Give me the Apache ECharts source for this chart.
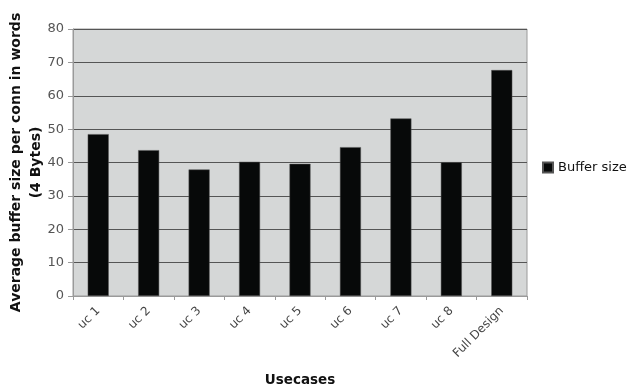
<!DOCTYPE html>
<html>
<head>
<meta charset="utf-8">
<script src="https://cdn.jsdelivr.net/npm/echarts@6/dist/echarts.min.js"></script>
<style>
  html, body { margin: 0; padding: 0; background: #fff; }
  #chart { width: 628px; height: 386px; }
</style>
</head>
<body>
<div id="chart"></div>
<script>
// Average buffer size per connection for each use case
const categories = ['uc 1', 'uc 2', 'uc 3', 'uc 4', 'uc 5', 'uc 6', 'uc 7', 'uc 8', 'Full Design'];
const bufferSize = [48.5, 43.7, 37.9, 40.2, 39.6, 44.6, 53.2, 40.1, 67.7];
const seriesName = 'Buffer size';
const yTicks = { min: 0, max: 80, interval: 10 };

const font = 'DejaVu Sans, Verdana, sans-serif';
const chart = echarts.init(document.getElementById('chart'), null, { renderer: 'canvas' });

chart.setOption({
  animation: false,
  backgroundColor: '#ffffff',
  textStyle: { fontFamily: font },
  grid: {
    left: 73, top: 29, right: 101, bottom: 90,
    containLabel: false,
    outerBoundsMode: 'none',
    show: true,
    backgroundColor: '#d5d7d7',
    borderColor: '#9a9a9a',
    borderWidth: 1
  },
  legend: {
    data: [seriesName],
    orient: 'vertical',
    left: 537, top: 156,
    itemWidth: 10, itemHeight: 10, itemGap: 4,
    icon: 'rect',
    textStyle: { fontFamily: font, fontSize: 13, color: '#111' }
  },
  xAxis: {
    type: 'category',
    data: categories,
    name: 'Usecases',
    nameLocation: 'middle',
    nameGap: 77,
    nameMoveOverlap: false,
    nameTextStyle: { fontFamily: font, fontSize: 13.5, fontWeight: 'bold', color: '#111' },
    axisLine: { show: true, lineStyle: { color: '#9a9a9a', width: 1 } },
    axisTick: { show: true, length: 4, lineStyle: { color: '#9a9a9a' } },
    axisLabel: { rotate: 45, fontSize: 12, color: '#444', fontFamily: font, margin: 13 }
  },
  yAxis: {
    type: 'value',
    min: yTicks.min, max: yTicks.max, interval: yTicks.interval,
    name: 'Average buffer size per conn in words\n(4 Bytes)',
    nameLocation: 'middle',
    nameRotate: 90,
    nameGap: 27,
    nameMoveOverlap: false,
    nameTextStyle: { fontFamily: font, fontSize: 14, fontWeight: 'bold', color: '#111', lineHeight: 20 },
    axisLine: { show: true, lineStyle: { color: '#9a9a9a', width: 1 } },
    axisTick: { show: true, length: 5, lineStyle: { color: '#9a9a9a' } },
    axisLabel: { fontSize: 13, color: '#555', fontFamily: font, margin: 9 },
    splitLine: { show: true, lineStyle: { color: '#555', width: 1.2 } }
  },
  series: [{
    name: seriesName,
    type: 'bar',
    data: bufferSize,
    barWidth: 21,
    itemStyle: { color: '#070909', borderColor: '#555', borderWidth: 0.5 }
  }]
});
</script>
</body>
</html>
